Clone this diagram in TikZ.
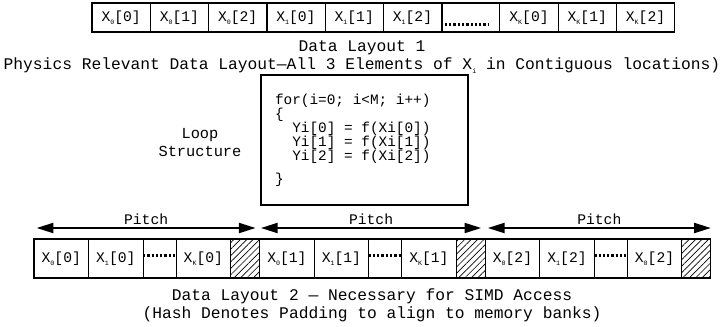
\documentclass[tikz,border=0pt]{standalone}
\usepackage{fontspec}
\setmainfont{Liberation Mono}
\usetikzlibrary{arrows.meta,positioning,patterns.meta}

% small lowered index, as in X_0
\newcommand{\lowidx}[1]{\raisebox{-0.45ex}{\fontsize{5}{5}\selectfont #1}}

\begin{document}
\frenchspacing
\begin{tikzpicture}[
  x=0.75pt, y=-0.75pt,
  node distance=0pt,
  cell/.style={rectangle, draw, line width=0.8pt, outer sep=0pt, inner sep=0pt, minimum width=43.7pt, minimum height=21.75pt, font=\fontsize{11}{12}\selectfont},
  slot/.style={cell, minimum width=40.9pt, minimum height=29.25pt},
  dotslot/.style={slot, minimum width=24.75pt},
  padslot/.style={slot, minimum width=21.75pt, pattern={Lines[angle=45, distance=3.4pt, line width=0.5pt]}},
  dotrow/.style={line width=2.2pt, dash pattern=on 1.7pt off 1.5pt},
  pitch/.style={{Triangle[length=12.5pt, width=7.5pt]}-{Triangle[length=12.5pt, width=7.5pt]}, line width=1.5pt},
  caption/.style={font=\fontsize{12.2}{14}\selectfont},
]
  \useasboundingbox (0,0) rectangle (725,326);

  % layout 1: elements of each X_i side by side
  \node[cell, anchor=west] (a1) at (92,17.5) {X\lowidx{0}[0]};
  \node[cell, right=of a1] (a2) {X\lowidx{0}[1]};
  \node[cell, right=of a2] (a3) {X\lowidx{0}[2]};
  \node[cell, right=of a3] (a4) {X\lowidx{1}[0]};
  \node[cell, right=of a4] (a5) {X\lowidx{1}[1]};
  \node[cell, right=of a5] (a6) {X\lowidx{1}[2]};
  \node[cell, right=of a6] (a7) {};
  \node[cell, right=of a7] (a8) {X\lowidx{K}[0]};
  \node[cell, right=of a8] (a9) {X\lowidx{K}[1]};
  \node[cell, right=of a9] (a10) {X\lowidx{K}[2]};
  \draw[line width=1.6pt] (a3.north east) -- (a3.south east);
  \draw[line width=1.6pt] (a7.north west) -- (a7.south west);
  \draw[dotrow] ([xshift=2.5pt, yshift=-5.4pt]a7.west) -- ++(33pt,0);

  \node[caption] (cap1) at (362,48) {Data Layout 1};
  \node[caption] (cap2) at (362,66) {Physics Relevant Data Layout—All 3 Elements of X\lowidx{i} in Contiguous locations)};

  % loop body
  \node[font=\fontsize{11.5}{13.5}\selectfont, align=center] (loopname) at (200,143) {Loop\\Structure};
  \node[draw, line width=0.8pt, minimum width=155.25pt, minimum height=97.5pt, text width=134.25pt, inner xsep=10.5pt, align=flush left, font=\fontsize{10.8}{10.5}\selectfont] (loop) at (364.5,140)
    {for(i=0; i<M; i++)\\
     \{\\
     \hphantom{YY}Yi[0] = f(Xi[0])\\
     \hphantom{YY}Yi[1] = f(Xi[1])\\
     \hphantom{YY}Yi[2] = f(Xi[2])\\[6.75pt]
     \}};

  % layout 2: one component of all X_i per pitch, then padding
  \node[slot, anchor=west] (b1) at (34,258.5) {X\lowidx{0}[0]};
  \node[slot, right=of b1] (b2) {X\lowidx{1}[0]};
  \node[dotslot, right=of b2] (b3) {};
  \node[slot, right=of b3] (b4) {X\lowidx{K}[0]};
  \node[padslot, right=of b4] (b5) {};
  \node[slot, right=of b5] (b6) {X\lowidx{0}[1]};
  \node[slot, right=of b6] (b7) {X\lowidx{1}[1]};
  \node[dotslot, right=of b7] (b8) {};
  \node[slot, right=of b8] (b9) {X\lowidx{K}[1]};
  \node[padslot, right=of b9] (b10) {};
  \node[slot, right=of b10] (b11) {X\lowidx{0}[2]};
  \node[slot, right=of b11] (b12) {X\lowidx{1}[2]};
  \node[dotslot, right=of b12] (b13) {};
  \node[slot, right=of b13] (b14) {X\lowidx{0}[2]};
  \node[padslot, right=of b14] (b15) {};
  \draw[dotrow] ([yshift=2.5pt]b3.west) -- ([yshift=2.5pt]b3.east);
  \draw[dotrow] ([yshift=2.5pt]b8.west) -- ([yshift=2.5pt]b8.east);
  \draw[dotrow] ([yshift=2.5pt]b13.west) -- ([yshift=2.5pt]b13.east);

  \draw[pitch] ([xshift=2pt, yshift=8.25pt]b1.north west) -- ([xshift=-3pt, yshift=8.25pt]b5.north east)
    node[midway, above=1pt, inner sep=0.5pt, font=\fontsize{11}{12}\selectfont] (pitch1) {Pitch};
  \draw[pitch] ([xshift=1pt, yshift=8.25pt]b6.north west) -- ([xshift=-3pt, yshift=8.25pt]b10.north east)
    node[midway, above=1pt, inner sep=0.5pt, font=\fontsize{11}{12}\selectfont] (pitch2) {Pitch};
  \draw[pitch] ([xshift=2pt, yshift=8.25pt]b11.north west) -- ([xshift=0pt, yshift=8.25pt]b15.north east)
    node[midway, above=1pt, inner sep=0.5pt, font=\fontsize{11}{12}\selectfont] (pitch3) {Pitch};

  \node[caption] (cap3) at (372,296) {Data Layout 2 — Necessary for SIMD Access};
  \node[caption] (cap4) at (372,314) {(Hash Denotes Padding to align to memory banks)};
\end{tikzpicture}
\end{document}
